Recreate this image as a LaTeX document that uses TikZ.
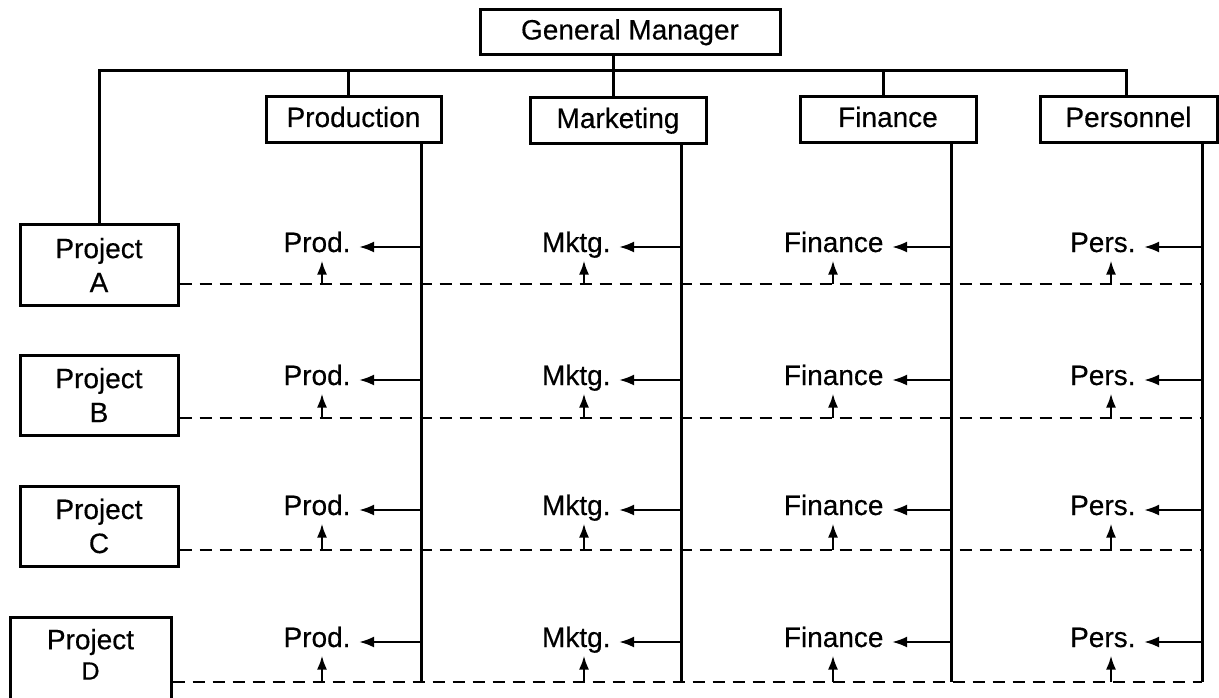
\documentclass[tikz,border=0pt]{standalone}
\usepackage{fontspec}
\setmainfont[FakeBold=0.4]{Liberation Sans}
\usetikzlibrary{arrows.meta}
\begin{document}
\begin{tikzpicture}[x=1pt,y=-1pt,
  line width=3pt,
  txt/.style={font=\fontsize{28}{34}\selectfont},
  box/.style={draw,txt,inner sep=0pt,line width=3pt,text height=20pt,text depth=6pt},
  projbox/.style={draw,txt,inner sep=0pt,line width=3pt,align=center,minimum width=158pt,minimum height=81pt},
  lab/.style={txt,inner sep=0pt,text height=20pt,text depth=6pt},
  arr/.style={line width=2.6pt,-{Latex[length=15pt,width=11pt]}},
  uparr/.style={line width=2.4pt,-{Latex[length=14pt,width=10pt]},shorten >=1pt},
  dashline/.style={line width=2.8pt,dash pattern=on 12pt off 8pt}]
\useasboundingbox (0,0) rectangle (1219,698);
% top boxes
\node[box,minimum width=300pt,minimum height=45pt] (gm) at (630,32.5) {General Manager};
\node[box,minimum width=175pt,minimum height=46pt] (prod) at (353.5,120) {Production};
\node[box,minimum width=176pt,minimum height=46pt] (mktg) at (618,121) {Marketing};
\node[box,minimum width=176pt,minimum height=46pt] (fin) at (888,120) {Finance};
\node[box,minimum width=177pt,minimum height=46pt] (pers) at (1128.5,120) {Personnel};
% project boxes
\node[projbox] (projA) at (99,265) {Project\\A};
\node[projbox,minimum height=80pt] (projB) at (99,395) {Project\\B};
\node[projbox,minimum height=80pt] (projC) at (99,526) {Project\\C};
\node[draw,line width=3pt,minimum width=161pt,minimum height=85pt] (projD) at (90.5,659.5) {};
\node[txt,inner sep=0pt] (projDt) at (90.5,642) {Project};
\node[inner sep=0pt,font=\fontsize{25}{28}\selectfont] (projDl) at (90.5,671) {D};
% bus
\coordinate (busL) at (99,71);
\coordinate (busP) at (348,71);
\coordinate (busM) at (613,71);
\coordinate (busF) at (883,71);
\coordinate (busR) at (1126,71);
\draw (gm.south -| busM) -- (busM);
\draw (projA.north) -- (busL) -- (busR) -- (busR |- pers.north);
\draw (busP) -- (busP |- prod.north);
\draw (busM) -- (busM |- mktg.north);
\draw (busF) -- (busF |- fin.north);
% department vertical lines
\foreach \d/\vx in {prod/421,mktg/681,fin/951,pers/1202}{
  \coordinate (\d-top) at (\vx,143);
  \coordinate (\d-bot) at (\vx,682);
  \draw (\d-top) -- (\d-bot);
}
% rows
\foreach \r/\ly/\dy in {A/245/284,B/378/418,C/508/550,D/640/682}{
  \coordinate (dashend-\r) at (1202,\dy);
  \draw[dashline] (proj\r.east |- dashend-\r) -- (dashend-\r);
  \foreach \d/\t/\ex/\vx/\ux in {prod/Prod./352/421/322,mktg/Mktg./612/681/584,fin/Finance/885/951/833,pers/Pers./1137/1202/1111}{
    \node[lab,anchor=east] (\d-\r) at (\ex,\ly) {\t};
    \coordinate (\d-h-\r) at (\vx,\ly+2);
    \draw[arr,shorten >=7pt] (\d-h-\r) -- (\d-h-\r -| \d-\r.east);
    \coordinate (\d-u-\r) at (\ux,\dy);
    \draw[uparr] (\d-u-\r) -- (\d-u-\r |- \d-\r.south);
  }
}
\end{tikzpicture}
\end{document}
